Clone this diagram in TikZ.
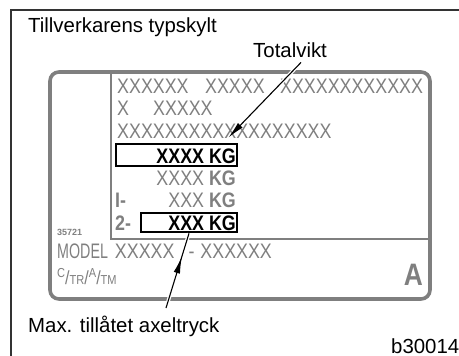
\documentclass[tikz,border=0pt]{standalone}
\usepackage{fontspec}
\setmainfont{Liberation Sans}
\newfontfamily\platefont[FakeStretch=0.85]{Liberation Sans}
\usetikzlibrary{arrows.meta,decorations.markings}
\definecolor{plategray}{HTML}{7F7F7F}
\definecolor{framegray}{HTML}{333333}
\tikzset{
  >={Latex[length=17pt,width=6.5pt]},
  % etiketter
  lbl/.style={font=\fontsize{20.4}{22}\selectfont,inner sep=0pt,anchor=base west},
  % skylten
  plate/.style={draw=plategray,line width=3.6pt,rounded corners=9pt},
  rule/.style={draw=plategray,line width=1.1pt},
  ptxt/.style={font=\platefont\fontsize{21}{22}\selectfont,text=plategray,
               inner sep=0pt,anchor=base west},
  pnum/.style={ptxt,font=\platefont\fontsize{21}{22}\selectfont\bfseries},
  pkg/.style={font=\platefont\fontsize{21}{22}\selectfont\bfseries,text=black,
              inner sep=0pt,anchor=base east},
  kgbox/.style={draw=black,line width=2.8pt,inner sep=0pt},
  % pilar
  lead/.style={draw=black,line width=1.1pt,preaction={draw=white,line width=3.6pt}},
  midarrow/.style={postaction={decorate},
                   decoration={markings,mark=at position 0.69 with {\arrow{>}}}},
}
\begin{document}
\begin{tikzpicture}[x=1pt,y=-1pt]
\useasboundingbox (0,0) rectangle (459,356);
  \draw[framegray,line width=1.5pt] (11,356) -- (11,10) -- (459,10);
  \node[lbl] (title) at (28,33) {Tillverkarens typskylt};
  \node[lbl] (lblTotal) at (253,57) {Totalvikt};
  % skylt
  \draw[plate] (50,72) rectangle (430,299);
  \draw[rule] (111,72) -- (111,239) -- (430,239);
  \node[ptxt] (row1) at (117,93) {XXXXXX\hspace{16.5pt}XXXXX\hspace{15.5pt}XXXXXXXXXXXX};
  \node[ptxt] (row2) at (117,115) {X\hspace{24pt}XXXXX};
  \node[ptxt] (row3) at (117,138) {XXXXXXXXXXXXXXXXXX};
  \node[kgbox,minimum width=121pt,minimum height=22pt] (kgTotal) at (176.5,155) {};
  \node[pkg] (valTotal) at (236,163) {XXXX KG};
  \node[ptxt,anchor=base east] (row5) at (236,185) {XXXX \textbf{KG}};
  \node[pnum] (ax1) at (115,207) {I-};
  \node[ptxt,anchor=base east] (row6) at (236,207) {XXX \textbf{KG}};
  \node[pnum] (ax2) at (115,230) {2-};
  \node[kgbox,minimum width=96pt,minimum height=19pt] (kgAxle) at (189,222.5) {};
  \node[pkg] (valAxle) at (236,230) {XXX KG};
  \node[font=\fontsize{9}{10}\selectfont\bfseries,text=plategray,inner sep=0pt,
        anchor=base west] (serial) at (57,235) {35721};
  \node[ptxt] (model) at (57,258)
    {\scalebox{0.8}[1]{MODEL}\hspace{7pt}XXXXX\hspace{14pt}-\hspace{6pt}XXXXXX};
  \node[ptxt,font=\platefont\fontsize{19}{20}\selectfont] (marks) at (57,284)
    {\raisebox{7pt}{\fontsize{13}{14}\selectfont C}/{\fontsize{13}{14}\selectfont TR}/\raisebox{7pt}{\fontsize{13}{14}\selectfont A}/{\fontsize{13}{14}\selectfont TM}};
  \node[font=\platefont\fontsize{31}{32}\selectfont\bfseries,text=plategray,
        inner sep=0pt,anchor=base east] (plateA) at (423,285) {A};
  % pilar
  \draw[lead,->] ([xshift=11pt,yshift=-5pt]lblTotal.south)
    -- ([xshift=-10pt,yshift=5pt]kgTotal.north east);
  \node[lbl] (lblAxle) at (28,332) {Max. tillåtet axeltryck};
  \coordinate (axleFoot) at (166,308);
  \draw[lead,midarrow] (axleFoot) -- (kgAxle.south);
  \node[lbl] (code) at (391,353) {b30014};
\end{tikzpicture}
\end{document}
